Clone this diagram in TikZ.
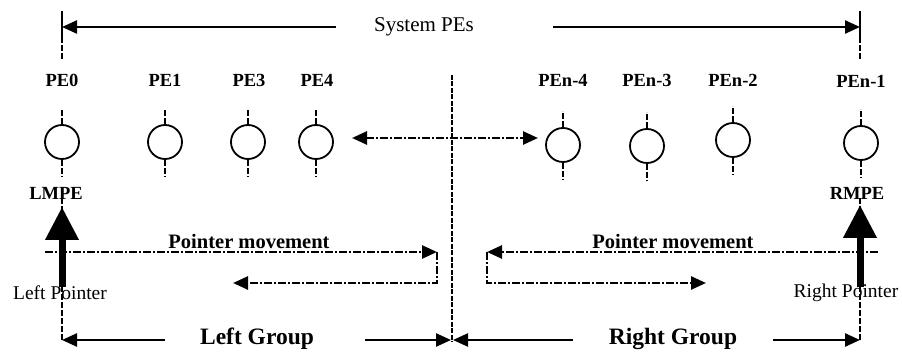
\documentclass[tikz,border=0pt]{standalone}
\usepackage{fontspec}
\setmainfont{Liberation Serif}
\usetikzlibrary{arrows.meta}

\newcommand{\fsz}[1]{\fontsize{#1}{#1}\selectfont}

\begin{document}
\begin{tikzpicture}[x=1pt,y=-1pt,
  pe/.style={circle, draw, line width=1.8pt, minimum size=34pt, inner sep=0pt},
  pelabel/.style={font=\bfseries\fsz{18.5}, inner sep=0pt},
  plain/.style={font=\fsz{19.5}, inner sep=0pt},
  grouplabel/.style={font=\bfseries\fsz{23.5}, inner sep=0pt},
  movelabel/.style={font=\bfseries\fsz{20.5}, inner sep=0pt},
  solidarrow/.style={line width=2.4pt, -{Triangle[length=15pt,width=13pt]}},
  dashdot/.style={line width=2.6pt, dash pattern=on 8pt off 2pt on 2pt off 2pt},
  dotarrow/.style={dashdot, -{Triangle[length=15pt,width=13pt]}},
  tickline/.style={line width=2.8pt, dash pattern=on 6pt off 2pt},
  guide/.style={line width=2.4pt, dash pattern=on 6pt off 2pt},
  pointer/.style={line width=7pt, -{Triangle[length=33pt,width=32pt]}},
]
\useasboundingbox (0,0) rectangle (902,352);

% processing elements
\node[pe] (pe0)  at (62,142)  {};
\node[pe] (pe1)  at (165,142) {};
\node[pe] (pe3)  at (248,142) {};
\node[pe] (pe4)  at (316,142) {};
\node[pe] (pen4) at (563,145) {};
\node[pe] (pen3) at (647,146) {};
\node[pe] (pen2) at (733,140) {};
\node[pe] (pen1) at (861,143) {};

\foreach \p in {pe0,pe1,pe3,pe4,pen4,pen3,pen2,pen1}{
  \draw[tickline] (\p.north) -- ++(0,-16);
  \draw[tickline] (\p.south) -- ++(0,17);
}

% PE names
\node[pelabel] (l0)  at (62,80)  {PE0};
\node[pelabel] (l1)  at (165,80) {PE1};
\node[pelabel] (l3)  at (249,80) {PE3};
\node[pelabel] (l4)  at (317,80) {PE4};
\node[pelabel] (ln4) at (563,80) {PEn-4};
\node[pelabel] (ln3) at (647,80) {PEn-3};
\node[pelabel] (ln2) at (733,80) {PEn-2};
\node[pelabel] (ln1) at (861,81) {PEn-1};

% system span
\coordinate (sysL) at (62,27);
\coordinate (sysR) at (860,27);
\coordinate (sysLa) at (336,27);
\coordinate (sysRa) at (553,27);
\node[font=\fsz{21}, inner sep=0pt] (sys) at (424,27) {System PEs};
\draw[line width=2.4pt] (62,11) -- (62,37);
\draw[guide] (62,37) -- (62,59);
\draw[line width=2.4pt] (860,11) -- (860,37);
\draw[guide] (860,37) -- (860,59);
\draw[solidarrow] (sysLa) -- (sysL);
\draw[solidarrow] (sysRa) -- (sysR);

% middle divider and exchange arrow
\coordinate (divT) at (452,75);
\coordinate (divB) at (452,342);
\draw[line width=2.6pt, dash pattern=on 5pt off 1.5pt] (divT) -- (divB);
\coordinate (exL) at (352,138);
\coordinate (exR) at (538,138);
\draw[dashdot, {Triangle[length=15pt,width=13pt]}-{Triangle[length=15pt,width=13pt]}] (exL) -- (exR);

% end pointers
\node[pelabel] (lmpe) at (56,193) {LMPE};
\node[pelabel] (rmpe) at (857,193) {RMPE};
\coordinate (lpB) at (62,287);
\coordinate (lpT) at (62,207);
\coordinate (rpB) at (860,287);
\coordinate (rpT) at (860,205);
\coordinate (lcorner) at (62,340);
\coordinate (rcorner) at (860,340);
\draw[guide] (62,198) -- (lcorner);
\draw[guide] (860,198) -- (rcorner);

% pointer movement, left side
\coordinate (lmA) at (45,252);
\coordinate (lmB) at (437,252);
\coordinate (lmC) at (437,283);
\coordinate (lmD) at (233,283);
\draw[dotarrow] (lmA) -- (lmB);
\draw[dotarrow] (lmB) -- (lmC) -- (lmD);
\node[movelabel] (lmove) at (249,241) {Pointer movement};

% pointer movement, right side
\coordinate (rmA) at (878,252);
\coordinate (rmB) at (487,252);
\coordinate (rmC) at (487,283);
\coordinate (rmD) at (706,283);
\draw[dotarrow] (rmA) -- (rmB);
\draw[dotarrow] (rmB) -- (rmC) -- (rmD);
\node[movelabel] (rmove) at (673,241) {Pointer movement};

\draw[pointer] (lpB) -- (lpT);
\draw[pointer] (rpB) -- (rpT);
\node[plain] (lptxt) at (60,293) {Left Pointer};
\node[plain] (rptxt) at (846,293) {Right Pointer};

% groups
\node[grouplabel] (lg) at (257,339) {Left Group};
\node[grouplabel] (rg) at (673,339) {Right Group};
\coordinate (lgA) at (165,340);
\coordinate (lgB) at (365,340);
\coordinate (lgE) at (451,340);
\coordinate (rgA) at (573,340);
\coordinate (rgB) at (773,340);
\coordinate (rgS) at (453,340);
\draw[solidarrow] (lgA) -- (lcorner);
\draw[solidarrow] (lgB) -- (lgE);
\draw[solidarrow] (rgA) -- (rgS);
\draw[solidarrow] (rgB) -- (rcorner);
\end{tikzpicture}
\end{document}
